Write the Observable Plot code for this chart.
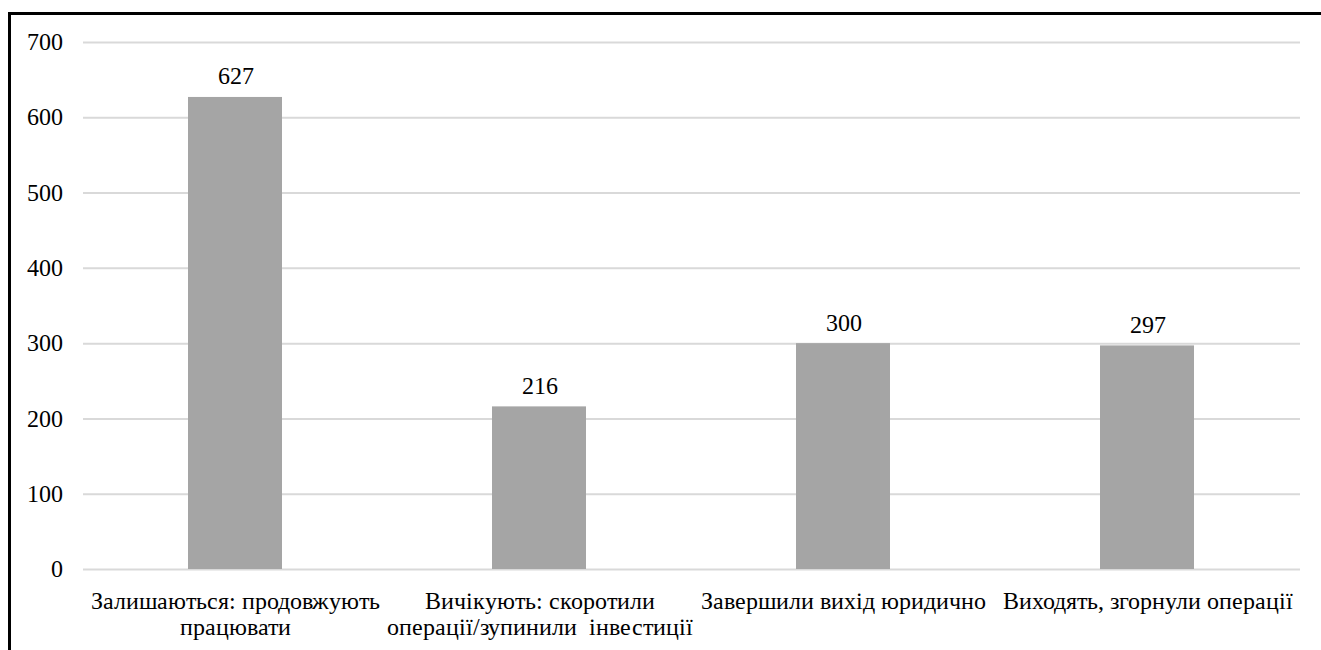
<!DOCTYPE html>
<html>
<head>
<meta charset="utf-8">
<script src="https://cdn.jsdelivr.net/npm/d3@7"></script>
<script src="https://cdn.jsdelivr.net/npm/@observablehq/plot@0.6"></script>
<style>
  @font-face { font-family: "ChartSerif"; src: local("Liberation Serif"), local("LiberationSerif"), local("LiberationSerif-Regular"), local("Times New Roman"); }
  body { margin: 0; padding: 0; background: #fff; }
  #wrap { position: relative; width: 1321px; height: 650px; overflow: hidden; }
  #frame { position: absolute; left: 8px; top: 12px; width: 1400px; height: 700px; pointer-events: none;
           border-top: 3px solid #000; border-left: 3px solid #000; }
  #chart text, #chart tspan { font-family: "ChartSerif", "Liberation Serif", "Times New Roman", serif !important; }
</style>
</head>
<body>
<div id="wrap"><div id="chart"></div><div id="frame"></div></div>
<script>
const categories = [
  "Залишаються: продовжують\nпрацювати",
  "Вичікують: скоротили\nоперації/зупинили  інвестиції",
  "Завершили вихід юридично",
  "Виходять, згорнули операції"
];
const values = [627, 216, 300, 297];
const yTicks = [0, 100, 200, 300, 400, 500, 600, 700];

const data = categories.map((c, i) => ({category: c, value: values[i]}));
const serif = "ChartSerif, 'Liberation Serif', 'Times New Roman', serif";

const chart = Plot.plot({
  width: 1321,
  height: 650,
  marginLeft: 83,
  marginRight: 21,
  marginTop: 42,
  marginBottom: 81,
  style: {fontFamily: serif, fontSize: "24px"},
  x: {domain: categories, paddingInner: 0.69, paddingOuter: 0.345, label: null},
  y: {domain: [0, 700], label: null},
  marks: [
    Plot.gridY(yTicks, {stroke: "#d9d9d9", strokeOpacity: 1, strokeWidth: 2}),
    Plot.barY(data, {x: "category", y: "value", fill: "#a5a5a5"}),
    Plot.text(data, {x: "category", y: "value", text: d => String(d.value), lineAnchor: "bottom", dy: -13, fontSize: 24, fontFamily: serif, fill: "#000"}),
    Plot.axisY({ticks: yTicks, tickSize: 0, tickPadding: 21, fontSize: 24, fontFamily: serif, label: null, fill: "#000"}),
    Plot.axisX({tickSize: 0, tickPadding: 21, fontSize: 24, fontFamily: serif, label: null, lineHeight: 1.08, fill: "#000", textAnchor: "middle", lineAnchor: "top"})
  ]
});
chart.setAttribute("font-family", serif);
document.getElementById("chart").appendChild(chart);
</script>
</body>
</html>
